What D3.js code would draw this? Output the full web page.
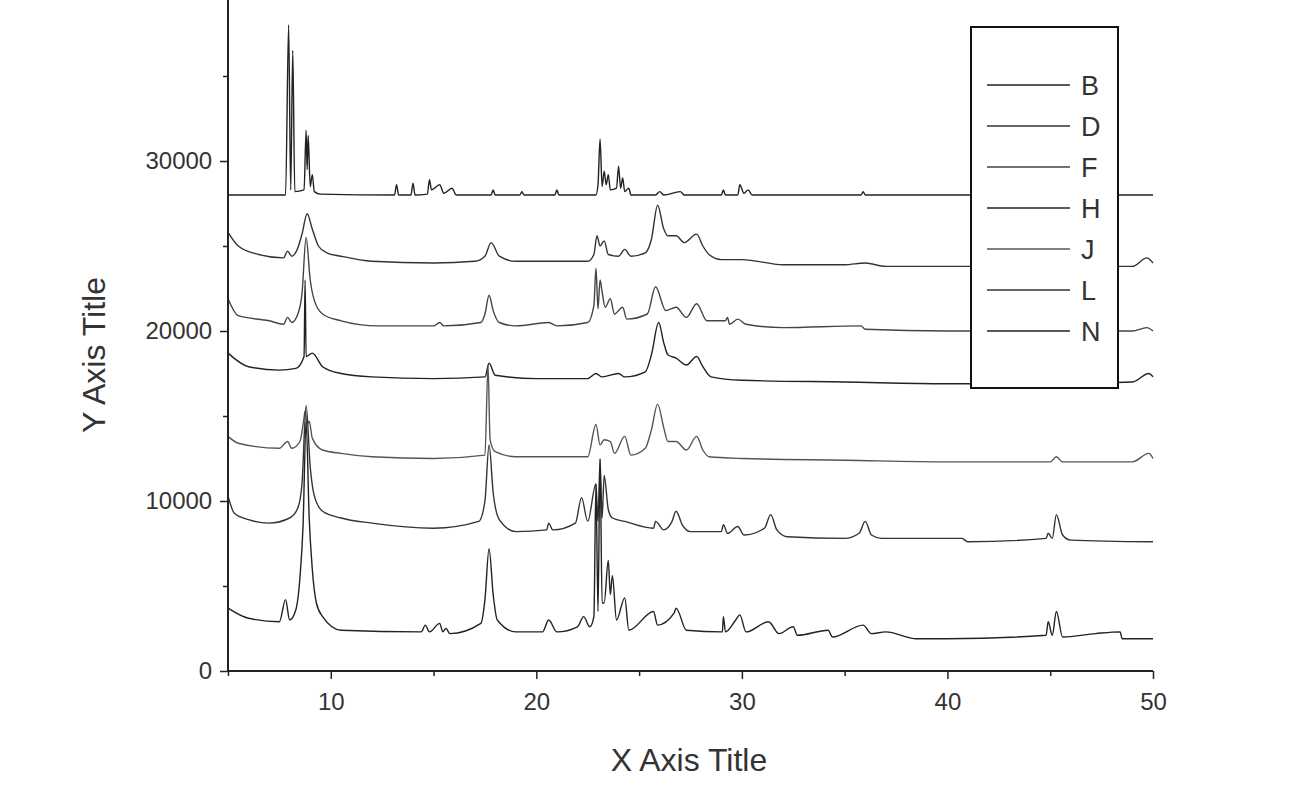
<!DOCTYPE html>
<html><head><meta charset="utf-8">
<script src="https://d3js.org/d3.v7.min.js"></script>
<style>body{margin:0;background:#fff}</style></head>
<body><svg id="c" width="1300" height="812"></svg>
<script>
const seriesNames = ["B","D","F","H","J","L","N"];
const xTicks = [10,20,30,40,50];
const yTicks = [0,10000,20000,30000];
const sB = [[5,28000],[7.8,28000],[7.95,38000],[8.05,28300],[8.15,36500],[8.25,28200],[8.7,28300],[8.8,31800],[8.85,29500],[8.9,31500],[9.0,28500],[9.1,29200],[9.2,28200],[9.5,28050],[13.1,28000],[13.2,28600],[13.3,28000],[13.9,28000],[14,28700],[14.1,28000],[14.7,28050],[14.8,28900],[14.9,28300],[15.3,28600],[15.5,28100],[15.9,28400],[16.1,28000],[17.8,28000],[17.9,28300],[18,28000],[19.2,28000],[19.3,28200],[19.4,28000],[20.9,28000],[21,28300],[21.1,28000],[22.9,28000],[23.0,28600],[23.1,31300],[23.2,28500],[23.3,29400],[23.4,28600],[23.5,29200],[23.6,28300],[23.9,28400],[24.0,29700],[24.1,28400],[24.2,29000],[24.3,28200],[24.5,28400],[24.6,28000],[25.8,28000],[26,28200],[26.2,28000],[27,28200],[27.2,28000],[29.0,28000],[29.1,28300],[29.2,28000],[29.8,28000],[29.9,28600],[30.1,28100],[30.3,28300],[30.5,28000],[35.8,28000],[35.9,28200],[36,28000],[50,28000]];
const sD = [[5,25800],[5.5,25000],[6.5,24500],[7.7,24300],[7.9,24700],[8.1,24400],[8.4,24900],[8.6,25700],[8.85,26900],[9.1,26000],[9.4,25000],[9.8,24600],[10.5,24400],[12,24100],[15,24000],[17,24100],[17.5,24400],[17.8,25200],[18.2,24400],[19,24100],[22.5,24100],[22.8,24500],[22.95,25600],[23.1,25000],[23.3,25300],[23.5,24500],[24,24400],[24.3,24800],[24.6,24400],[25.3,24600],[25.6,25400],[25.9,27400],[26.2,26000],[26.4,25600],[26.8,25600],[27.2,25200],[27.8,25700],[28.1,25000],[28.4,24500],[29,24200],[30,24200],[32,23900],[35,23900],[36,24000],[37,23800],[40,23800],[45,23800],[49,23800],[49.7,24300],[50,24000]];
const sF = [[5,21900],[5.5,20900],[7,20600],[7.7,20400],[7.9,20800],[8.1,20500],[8.4,21000],[8.6,22200],[8.8,25500],[9.0,23000],[9.2,21800],[9.6,21000],[10.5,20600],[12.3,20300],[15,20300],[15.3,20500],[15.5,20300],[17.3,20500],[17.5,21000],[17.7,22100],[17.9,21200],[18.2,20500],[19,20300],[20.6,20500],[21,20300],[22.5,20500],[22.8,21500],[22.9,23700],[23.0,21300],[23.1,23000],[23.2,22300],[23.35,21400],[23.6,21900],[23.8,21000],[24.2,21400],[24.4,20700],[25.4,21000],[25.8,22600],[26.3,21200],[26.8,21400],[27.3,20800],[27.8,21600],[28.3,20600],[29.2,20600],[29.3,20800],[29.4,20400],[29.8,20700],[30.2,20400],[32,20200],[35.8,20300],[36,20100],[40,20000],[45,20000],[49,20000],[49.7,20200],[50,20000]];
const sH = [[5,18700],[6,17900],[7.5,17700],[8.3,17800],[8.7,18500],[8.75,23000],[8.8,18500],[9.1,18700],[9.6,17900],[10.5,17500],[12,17300],[15,17200],[17.5,17300],[17.7,18100],[18,17400],[20,17200],[22.5,17200],[22.9,17500],[23.2,17300],[24,17500],[24.3,17300],[25.3,17600],[25.6,18600],[25.95,20500],[26.2,19300],[26.4,18600],[26.8,18400],[27.3,18000],[27.8,18500],[28.1,17900],[28.5,17300],[30,17100],[35,17000],[40,16900],[45,16900],[49,17000],[49.8,17500],[50,17300]];
const sJ = [[5,13800],[5.5,13400],[7.5,13100],[7.9,13500],[8.1,13100],[8.5,13500],[8.7,14900],[8.75,15300],[8.85,14500],[8.95,14700],[9.1,13700],[9.6,13000],[10.5,12800],[12,12600],[15,12500],[17.5,12700],[17.65,18000],[17.75,13600],[18,12900],[19,12600],[22.5,12600],[22.9,14500],[23.1,13300],[23.3,13600],[23.6,13500],[23.8,12800],[24.3,13800],[24.6,12700],[25.3,13100],[25.6,14200],[25.9,15700],[26.2,14300],[26.4,13500],[26.8,13500],[27.3,13000],[27.8,13800],[28.1,13000],[28.4,12600],[30,12500],[35,12400],[40,12300],[45,12300],[45.3,12600],[45.6,12300],[49,12300],[49.8,12800],[50,12500]];
const sL = [[5,10300],[5.3,9300],[6,8900],[7,8700],[8,9000],[8.4,9600],[8.6,11000],[8.8,15600],[9.0,12000],[9.2,10300],[9.6,9400],[10.5,9000],[12,8700],[15,8400],[17.2,8800],[17.5,10000],[17.7,13300],[17.9,10500],[18.2,8900],[19,8200],[20.5,8300],[20.6,8700],[20.8,8300],[21.9,8700],[22.2,10200],[22.5,8800],[22.9,11000],[23.0,8800],[23.1,12400],[23.2,9000],[23.3,11500],[23.5,9500],[23.7,9000],[24.3,8800],[25.7,8400],[25.8,8800],[26.2,8300],[26.6,8800],[26.8,9400],[27.1,8600],[27.5,8200],[29,8200],[29.1,8600],[29.3,8100],[29.8,8500],[30.1,8000],[31.1,8400],[31.4,9200],[31.7,8300],[32.2,7900],[35,7800],[35.7,8100],[36,8800],[36.3,8000],[36.8,7800],[40.7,7800],[41,7600],[44.8,7800],[44.9,8100],[45.1,7800],[45.3,9200],[45.6,8000],[46,7700],[50,7600]];
const sN = [[5,3700],[6,3100],[7.5,2900],[7.8,4200],[8.0,3000],[8.3,3600],[8.5,5500],[8.65,8500],[8.8,14700],[8.95,9000],[9.1,6000],[9.3,4000],[9.6,3200],[10.5,2400],[14.4,2300],[14.6,2700],[14.8,2300],[15.3,2800],[15.45,2300],[15.6,2500],[15.8,2200],[17.3,2800],[17.5,4200],[17.7,7200],[17.9,4500],[18.1,3000],[19,2300],[20.3,2300],[20.6,3000],[21,2300],[22,2600],[22.3,3200],[22.6,2600],[22.8,3200],[22.9,11000],[23.0,3500],[23.1,12500],[23.2,4000],[23.3,4000],[23.5,6500],[23.6,4500],[23.7,5600],[23.9,3000],[24.3,4300],[24.5,2400],[25.7,3500],[25.9,2700],[26.7,3400],[26.8,3700],[27.3,2400],[29.05,2300],[29.1,3200],[29.2,2300],[29.7,3000],[29.9,3300],[30.2,2300],[31.3,2900],[31.8,2200],[32.5,2600],[32.7,2100],[34.2,2400],[34.4,2000],[35.9,2700],[36.3,2200],[37,2300],[38.5,1900],[40,1900],[44.8,2100],[44.9,2900],[45.1,2100],[45.3,3500],[45.6,2000],[47.2,2200],[48.4,2300],[48.5,1900],[50,1900]];
const seriesData = [sB,sD,sF,sH,sJ,sL,sN];
const colors = ["#222","#333","#444","#222","#555","#333","#222"];

const svg = d3.select("#c");
const x = d3.scaleLinear().domain([5,50]).range([228,1153]);
const y = d3.scaleLinear().domain([0,30000]).range([671,161]);
const font = "'Liberation Sans', Arial, sans-serif";

const line = d3.line().x(d=>x(d[0])).y(d=>y(d[1])).curve(d3.curveMonotoneX);
seriesData.forEach((s,i)=>{
  svg.append("path").attr("d",line(s)).attr("fill","none").attr("stroke",colors[i]).attr("stroke-width",1.4);
});

const xa = svg.append("g").attr("transform","translate(0,671)")
  .call(d3.axisBottom(x).tickValues(xTicks).tickSize(8).tickFormat(d3.format("d")));
svg.append("g").attr("transform","translate(0,671)")
  .call(d3.axisBottom(x).tickValues([5,15,25,35,45]).tickSize(5).tickFormat(""));
const ya = svg.append("g").attr("transform","translate(228,0)")
  .call(d3.axisLeft(y).tickValues(yTicks).tickSize(8).tickFormat(d3.format("d")));
svg.append("g").attr("transform","translate(228,0)")
  .call(d3.axisLeft(y).tickValues([5000,15000,25000,35000]).tickSize(5).tickFormat(""));
svg.selectAll(".domain").remove();
svg.selectAll(".tick line").attr("stroke","#222").attr("stroke-width",1.5);
svg.selectAll(".tick text").attr("font-family",font).attr("font-size",24).attr("fill","#333");
xa.selectAll(".tick text").attr("dy","1.15em");
ya.selectAll(".tick text").attr("dx","-0.2em");
svg.append("line").attr("x1",228).attr("x2",228).attr("y1",0).attr("y2",671).attr("stroke","#222").attr("stroke-width",2);
svg.append("line").attr("x1",228).attr("x2",1153).attr("y1",671).attr("y2",671).attr("stroke","#222").attr("stroke-width",2);

svg.append("text").attr("x",689).attr("y",771).attr("text-anchor","middle")
  .attr("font-family",font).attr("font-size",32).attr("fill","#333").text("X Axis Title");
svg.append("text").attr("transform","translate(105,355) rotate(-90)").attr("text-anchor","middle")
  .attr("font-family",font).attr("font-size",32).attr("fill","#333").text("Y Axis Title");

svg.append("rect").attr("x",971).attr("y",27).attr("width",147).attr("height",361)
  .attr("fill","#fff").attr("stroke","#111").attr("stroke-width",2);
seriesNames.forEach((n,i)=>{
  const yy = 85 + i*41;
  svg.append("line").attr("x1",987).attr("x2",1070).attr("y1",yy).attr("y2",yy).attr("stroke",colors[i]).attr("stroke-width",1.3);
  svg.append("text").attr("x",1081).attr("y",yy+10).attr("font-family",font).attr("font-size",27).attr("fill","#333").text(n);
});
</script></body></html>
